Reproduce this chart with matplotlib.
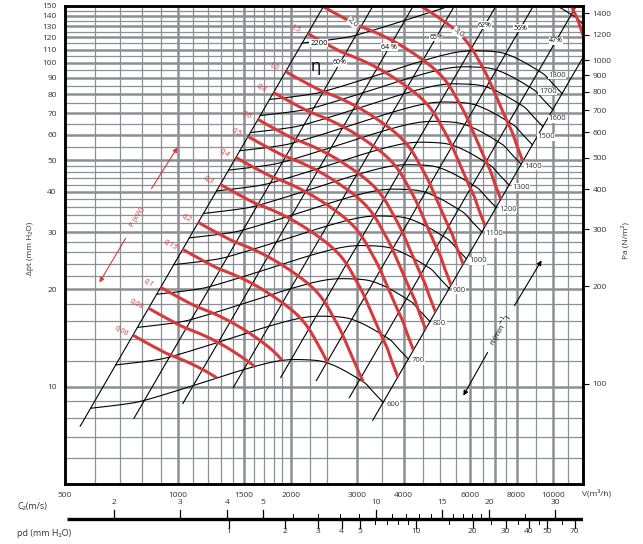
import numpy as np
import matplotlib.pyplot as plt
from matplotlib.ticker import NullLocator

plt.rcParams['font.family'] = ['Open Sans', 'DejaVu Sans']

RED = '#d63b3c'
GRID = '#8a9096'

# ---- values ----
# fan characteristic at 600 min-1 : flow (m3/h) and total pressure (mm H2O)
base_rpm = 600
base_flow = [585, 729, 810, 1099, 1492, 1835, 2114, 2504, 3134, 3306, 3527]
base_dp = [8.57, 8.84, 9.05, 10.07, 11.27, 11.98, 12.12, 11.84, 10.31, 9.67, 8.94]

rpm_curves = [600, 700, 800, 900, 1000, 1100, 1200, 1300, 1400, 1500, 1600, 1700, 1800, 2200]

# parabolas (equal efficiency lines), named by their flow at 10 mm H2O
parab_flow10 = [632, 855, 1095, 1410, 1820, 2290, 2980, 3730]
eff_text = ['', '60%', '64 %', '65%', '62%', '56%', '47%', '']
eff_dp = [0, 100, 112, 120, 131, 128, 117, 0]

# shaft power (kW) on the 600 min-1 curve where it meets each parabola
pow_base = [0.0275, 0.037, 0.0505, 0.0735, 0.108, 0.149, 0.195, 0.229]

power_kw = [0.06, 0.08, 0.1, 0.15, 0.2, 0.3, 0.4, 0.5, 0.6, 0.8, 1.0, 1.5, 2.0, 3.0, 10.0]
power_txt = ['0,06', '0,08', '0,1', '0,15', '0,2', '0,3', '0,4', '0,5', '0,6', '0,8', '1,0', '1,5',
             '2,0', '3,0', '']

# grid
v_thin = [600, 700, 800, 900, 1100, 1200, 1300, 1400, 1600, 1700, 1800, 1900, 2250, 2500,
          3500, 4500, 5000, 5500, 6500, 7500, 9000, 11000]
v_thick = [1000, 1500, 2000, 3000, 4000, 6000, 7000, 8000, 10000]
p_thin = [6, 7, 8, 9, 12, 14, 16, 18, 22, 24, 26, 28, 32, 34, 36, 38, 42, 44, 46, 48,
          55, 65, 75, 85, 95, 105, 115, 125, 135, 145]
p_thick = [10, 20, 30, 40, 50, 60, 70, 80, 90, 100, 110, 120, 130, 140]

x_ticks = [500, 1000, 1500, 2000, 3000, 4000, 6000, 8000, 10000]
y_ticks = [10, 20, 30, 40, 50, 60, 70, 80, 90, 100, 110, 120, 130, 140, 150]
pa_ticks = [100, 200, 300, 400, 500, 600, 700, 800, 900, 1000, 1200, 1400]

# lower scales: outlet velocity and dynamic pressure
c2_major = [2, 3, 4, 5, 10, 15, 20, 30]
c2_minor = [6, 7, 8, 9, 11, 12, 13, 14, 16, 17, 18, 19, 25]
pd_major = [1, 2, 3, 4, 5, 10, 20, 30, 40, 50, 70]
pd_minor = [6, 7, 8, 9, 15, 25, 35, 45, 60, 80]
flow_per_c2 = 337.8      # m3/h per m/s (outlet area)
pd_per_c2sq = 0.0612     # mm H2O per (m/s)^2

XMIN, XMAX = 500, 12030
YMIN, YMAX = 5, 150


def on_parab(c, dp):
    return c * np.sqrt(np.asarray(dp, dtype=float) / 10.0)


def smooth_loglog(xk, yk, x):
    # cubic hermite through the read points, in log-log space
    lx, ly = np.log(np.asarray(xk, float)), np.log(np.asarray(yk, float))
    m = np.empty_like(lx)
    m[1:-1] = (ly[2:] - ly[:-2]) / (lx[2:] - lx[:-2])
    m[0] = (ly[1] - ly[0]) / (lx[1] - lx[0])
    m[-1] = (ly[-1] - ly[-2]) / (lx[-1] - lx[-2])
    t_x = np.log(np.asarray(x, float))
    i = np.clip(np.searchsorted(lx, t_x) - 1, 0, len(lx) - 2)
    h = lx[i + 1] - lx[i]
    t = (t_x - lx[i]) / h
    y = ((2 * t**3 - 3 * t**2 + 1) * ly[i] + (t**3 - 2 * t**2 + t) * h * m[i]
         + (-2 * t**3 + 3 * t**2) * ly[i + 1] + (t**3 - t**2) * h * m[i + 1])
    return np.exp(y)


base_flow = np.array(base_flow, dtype=float)
base_dp = np.array(base_dp, dtype=float)
base_c = base_flow * np.sqrt(10.0 / base_dp)

cg = np.geomspace(parab_flow10[0], parab_flow10[-1], 800)
dp_c = smooth_loglog(base_c, base_dp, cg)
pw_c = smooth_loglog(parab_flow10, pow_base, cg)

fig = plt.figure(figsize=(6.43, 5.44), dpi=100)
ax = fig.add_axes([65 / 643, 1 - 484 / 544, 518 / 643, 478 / 544])
ax.set_xscale('log')
ax.set_yscale('log')
ax.set_xlim(XMIN, XMAX)
ax.set_ylim(YMIN, YMAX)

for v in v_thin:
    ax.axvline(v, color=GRID, lw=0.9, zorder=0.5)
for v in v_thick:
    ax.axvline(v, color=GRID, lw=1.8, zorder=0.5)
for p in p_thin:
    ax.axhline(p, color=GRID, lw=0.9, zorder=0.5)
for p in p_thick:
    ax.axhline(p, color=GRID, lw=1.8, zorder=0.5)

# equal efficiency parabolas
for c, txt, pe in zip(parab_flow10, eff_text, eff_dp):
    dps = np.array([0.88 * smooth_loglog(base_c, base_dp, [c])[0], 400.0])
    ax.plot(on_parab(c, dps), dps, color='black', lw=0.8, zorder=2)
    if txt:
        ax.text(on_parab(c, pe), pe, txt, fontsize=5, ha='center', va='center', zorder=6,
                bbox=dict(boxstyle='square,pad=0.05', fc='white', ec='none'))

# speed curves
for n in rpm_curves:
    k = n / base_rpm
    dp = dp_c * k ** 2
    V = on_parab(cg, dp)
    ax.plot(V, dp, color='black', lw=0.8, zorder=2)
    if n == 2200:
        ax.annotate('2200', (V[0], dp[0]), xytext=(8, 0), textcoords='offset pixels',
                    fontsize=5.5, ha='left', va='center', zorder=6,
                    bbox=dict(boxstyle='square,pad=0.1', fc='white', ec='none'))
    else:
        off = (3, -2)
        if n in (1500, 1600):
            off = (5, 8)
        if n in (1700, 1800):
            off = (-14, 18)
        ax.annotate(str(n), (V[-1], dp[-1]), xytext=off, textcoords='offset pixels',
                    fontsize=5.5, ha='left', va='center', color='#333333', zorder=6,
                    bbox=dict(boxstyle='square,pad=0.05', fc='white', ec='none'))

# power curves
for kw, txt in zip(power_kw, power_txt):
    n = base_rpm * (kw / pw_c) ** (1 / 3)
    m = n >= base_rpm
    dp = dp_c[m] * (n[m] / base_rpm) ** 2
    V = on_parab(cg[m], dp)
    ax.plot(V, dp, color=RED, lw=2.2, solid_capstyle='butt', zorder=3)
    if not txt:
        continue
    if kw < 2:
        ax.annotate(txt, (V[0], dp[0]), xytext=(-12, 4), textcoords='offset pixels',
                    fontsize=5.5, color=RED, style='italic', rotation=-28,
                    ha='center', va='center', zorder=6)
    else:
        target = 133 if kw == 2.0 else 124
        i = np.argmin(np.abs(dp - target))
        ax.text(V[i], dp[i], txt, fontsize=6, color='#333333', rotation=-40,
                ha='center', va='center', zorder=6,
                bbox=dict(boxstyle='square,pad=0.05', fc='white', ec='none'))

ax.text(2330, 97, 'η', fontsize=12, ha='center', va='center', zorder=6)

# direction arrows
arr_red = dict(arrowstyle='-|>', color=RED, lw=0.8, mutation_scale=7)
ax.annotate('', xy=(0.2201, 0.7092), xytext=(0.1641, 0.6130), xycoords='axes fraction',
            arrowprops=arr_red)
ax.annotate('', xy=(0.0637, 0.4163), xytext=(0.1197, 0.5188), xycoords='axes fraction',
            arrowprops=arr_red)
ax.text(0.139, 0.5586, 'P (kW)', transform=ax.transAxes, rotation=59, color=RED,
        fontsize=5.5, ha='center', va='center')
arr_blk = dict(arrowstyle='-|>', color='black', lw=0.8, mutation_scale=7)
ax.annotate('', xy=(0.9228, 0.4728), xytext=(0.8649, 0.3682), xycoords='axes fraction',
            arrowprops=arr_blk)
ax.annotate('', xy=(0.7664, 0.1799), xytext=(0.8185, 0.2803), xycoords='axes fraction',
            arrowprops=arr_blk)
ax.text(0.8398, 0.3222, 'n (min$^{-1}$)', transform=ax.transAxes, rotation=60,
        fontsize=5.5, ha='center', va='center')

# axes decoration
for s in ax.spines.values():
    s.set_linewidth(1.8)
ax.set_xticks(x_ticks)
ax.set_xticklabels([str(v) for v in x_ticks])
ax.set_yticks(y_ticks)
ax.set_yticklabels([str(v) for v in y_ticks])
ax.xaxis.set_minor_locator(NullLocator())
ax.yaxis.set_minor_locator(NullLocator())
ax.tick_params(axis='both', length=0, labelsize=6, pad=6, labelcolor='#333333')
fig.text(30 / 643, 1 - 248 / 544, 'Δpt (mm H₂O)', rotation=90, fontsize=6,
         ha='center', va='center', color='#333333')
fig.text(582 / 643, 1 - 493 / 544, 'V(m³/h)', fontsize=6, ha='left', va='center',
         color='#333333')

ax2 = ax.twinx()
ax2.set_yscale('log')
ax2.set_ylim(YMIN * 9.81, YMAX * 9.81)
ax2.set_yticks(pa_ticks)
ax2.set_yticklabels([str(v) for v in pa_ticks])
ax2.yaxis.set_minor_locator(NullLocator())
ax2.tick_params(axis='y', length=4, width=0.8, labelsize=6, pad=3, labelcolor='#333333')
for s in ax2.spines.values():
    s.set_linewidth(1.8)
fig.text(625 / 643, 1 - 241 / 544, 'Pa (N/m²)', rotation=90, fontsize=6,
         ha='center', va='center', color='#333333')

# velocity / dynamic pressure scales
axb = fig.add_axes([65 / 643, 0, 518 / 643, 60 / 544])
axb.set_xscale('log')
axb.set_xlim(XMIN, XMAX)
axb.set_ylim(0, 60)
axb.axis('off')
yb = 25.3
axb.plot([505, XMAX], [yb, yb], color='black', lw=2.4, solid_capstyle='butt')
for c in c2_major:
    v = c * flow_per_c2
    axb.plot([v, v], [yb, yb + 9], color='black', lw=0.9)
    axb.text(v, 41, str(c), fontsize=6, ha='center', va='center', color='#333333')
for c in c2_minor:
    v = c * flow_per_c2
    axb.plot([v, v], [yb, yb + 5], color='black', lw=0.7)
for p in pd_major:
    v = flow_per_c2 * np.sqrt(p / pd_per_c2sq)
    axb.plot([v, v], [yb, yb - 9], color='black', lw=0.9)
    axb.text(v, 12.5, str(p), fontsize=6, ha='center', va='center', color='#333333')
for p in pd_minor:
    v = flow_per_c2 * np.sqrt(p / pd_per_c2sq)
    axb.plot([v, v], [yb, yb - 5], color='black', lw=0.7)
fig.text(17 / 643, 1 - 507 / 544, 'C₂(m/s)', fontsize=6.5, ha='left', va='center',
         color='#333333')
fig.text(17 / 643, 1 - 533 / 544, 'pd (mm H₂O)', fontsize=6.5, ha='left', va='center',
         color='#333333')

fig.savefig('out.png', dpi=100)
